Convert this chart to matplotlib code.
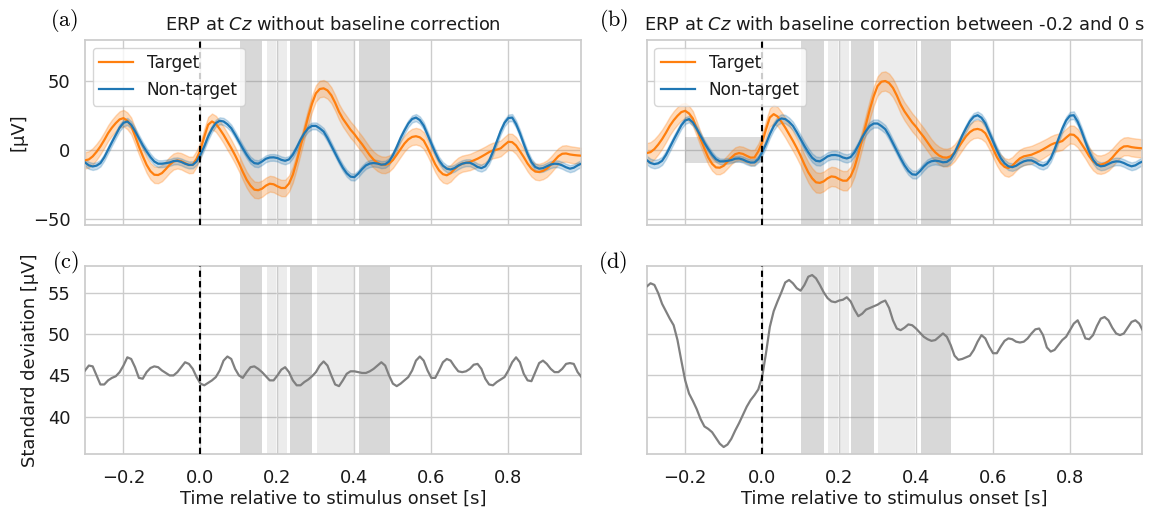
import numpy as np
import matplotlib
matplotlib.use("Agg")
import matplotlib.pyplot as plt

# ---------------- data ----------------
time = np.round(np.arange(-30, 100) / 100.0, 2)   # -0.30 ... 0.99 s

target_raw = [
    -7.2, -6.5, -4.3, -1.0, 2.9, 7.5, 12.5, 16.5, 19.8, 22.5,
    23.4, 21.5, 17.8, 10.5, 2.9, -4.0, -10.4, -15.0, -17.6, -17.8,
    -16.4, -13.5, -10.4, -8.0, -7.2, -7.8, -9.2, -10.5, -10.4, -6.0,
    0.5, 10.0, 18.6, 21.0, 19.3, 15.5, 11.3, 6.5, 1.7, -3.5,
    -9.2, -15.5, -21.2, -25.5, -28.4, -28.8, -27.7, -25.5, -24.1, -24.5,
    -26.0, -27.2, -27.2, -24.0, -17.6, -8.0, 2.9, 14.0, 24.6, 34.0,
    41.4, 44.5, 45.0, 43.5, 40.0, 34.5, 28.0, 23.0, 19.0, 15.0,
    11.8, 8.0, 4.5, 0.5, -3.5, -6.7, -9.0, -10.3, -10.5, -9.5,
    -7.0, -3.1, 1.0, 5.0, 8.0, 9.8, 10.3, 9.5, 7.2, 2.0,
    -4.0, -10.0, -14.5, -17.2, -18.0, -16.5, -13.5, -11.0, -9.6, -9.0,
    -8.4, -7.2, -6.0, -4.5, -2.9, -1.2, 0.0, 0.6, 1.5, 4.0,
    6.3, 6.0, 3.6, -0.5, -4.8, -9.5, -13.2, -15.3, -15.6, -14.8,
    -13.2, -10.5, -7.2, -4.2, -2.4, -2.2, -2.9, -3.3, -3.6, -3.8,
]
nontarget_raw = [
    -8.7, -10.8, -11.6, -11.0, -9.2, -5.0, 0.5, 6.0, 11.3, 16.5,
    20.0, 21.0, 18.6, 14.0, 8.9, 3.8, -0.7, -4.8, -8.0, -9.6,
    -9.6, -9.2, -8.7, -7.7, -7.5, -8.3, -9.6, -10.5, -10.4, -8.0,
    -3.1, 3.0, 10.1, 15.8, 19.8, 21.5, 21.0, 19.0, 16.1, 11.5,
    6.5, 1.5, -3.1, -7.0, -9.2, -9.6, -8.0, -6.0, -5.1, -5.0,
    -5.5, -6.8, -7.5, -6.5, -3.1, 2.0, 7.7, 12.5, 16.1, 17.8,
    17.8, 16.0, 13.7, 9.0, 3.5, -2.0, -7.5, -12.5, -16.5, -19.0,
    -19.3, -16.8, -13.5, -10.8, -9.5, -9.1, -9.5, -10.3, -10.0, -8.0,
    -3.5, 2.5, 9.0, 14.5, 19.5, 22.8, 23.8, 22.0, 18.0, 11.5,
    4.8, -1.5, -7.2, -11.0, -13.2, -13.8, -12.8, -11.0, -9.6, -8.9,
    -8.9, -10.2, -12.0, -12.8, -11.5, -7.5, -1.0, 6.5, 14.0, 20.0,
    23.5, 23.8, 19.2, 12.5, 4.8, -2.5, -8.4, -12.0, -13.2, -12.8,
    -11.5, -10.2, -9.6, -9.8, -10.8, -12.2, -13.2, -12.5, -10.8, -9.5,
]
target_bc = [
    -1.9, -1.2, 1.0, 4.3, 8.2, 12.8, 17.8, 21.8, 25.1, 27.8,
    28.7, 26.8, 23.1, 15.8, 8.2, 1.3, -5.1, -9.7, -12.3, -12.5,
    -11.1, -8.2, -5.1, -2.7, -1.9, -2.5, -3.9, -5.2, -5.1, -0.7,
    5.8, 15.3, 23.9, 26.3, 24.6, 20.8, 16.6, 11.8, 7.0, 1.8,
    -3.9, -10.2, -15.9, -20.2, -23.1, -23.5, -22.4, -20.2, -18.8, -19.2,
    -20.7, -21.9, -21.9, -18.7, -12.3, -2.7, 8.2, 19.3, 29.9, 39.3,
    46.7, 49.8, 50.3, 48.8, 45.3, 39.8, 33.3, 28.3, 24.3, 20.3,
    17.1, 13.3, 9.8, 5.8, 1.8, -1.4, -3.7, -5.0, -5.2, -4.2,
    -1.7, 2.2, 6.3, 10.3, 13.3, 15.1, 15.6, 14.8, 12.5, 7.3,
    1.3, -4.7, -9.2, -11.9, -12.7, -11.2, -8.2, -5.7, -4.3, -3.7,
    -3.1, -1.9, -0.7, 0.8, 2.4, 4.1, 5.3, 5.9, 6.8, 9.3,
    11.6, 11.3, 8.9, 4.8, 0.5, -4.2, -7.9, -10.0, -10.3, -9.5,
    -7.9, -5.2, -1.9, 1.1, 2.9, 3.1, 2.4, 2.0, 1.7, 1.5,
]
nontarget_bc = [
    -7.0, -9.1, -9.9, -9.3, -7.5, -3.3, 2.2, 7.7, 13.0, 18.2,
    21.7, 22.7, 20.3, 15.7, 10.6, 5.5, 1.0, -3.1, -6.3, -7.9,
    -7.9, -7.5, -7.0, -6.0, -5.8, -6.6, -7.9, -8.8, -8.7, -6.3,
    -1.4, 4.7, 11.8, 17.5, 21.5, 23.2, 22.7, 20.7, 17.8, 13.2,
    8.2, 3.2, -1.4, -5.3, -7.5, -7.9, -6.3, -4.3, -3.4, -3.3,
    -3.8, -5.1, -5.8, -4.8, -1.4, 3.7, 9.4, 14.2, 17.8, 19.5,
    19.5, 17.7, 15.4, 10.7, 5.2, -0.3, -5.8, -10.8, -14.8, -17.3,
    -17.6, -15.1, -11.8, -9.1, -7.8, -7.4, -7.8, -8.6, -8.3, -6.3,
    -1.8, 4.2, 10.7, 16.2, 21.2, 24.5, 25.5, 23.7, 19.7, 13.2,
    6.5, 0.2, -5.5, -9.3, -11.5, -12.1, -11.1, -9.3, -7.9, -7.2,
    -7.2, -8.5, -10.3, -11.1, -9.8, -5.8, 0.7, 8.2, 15.7, 21.7,
    25.2, 25.5, 20.9, 14.2, 6.5, -0.8, -6.7, -10.3, -11.5, -11.1,
    -9.8, -8.5, -7.9, -8.1, -9.1, -10.5, -11.5, -10.8, -9.1, -7.8,
]
std_raw = [
    45.6, 46.2, 46.1, 45.0, 43.9, 43.9, 44.4, 44.7, 44.9, 45.4,
    46.2, 47.2, 47.0, 46.0, 44.7, 44.6, 45.4, 45.9, 46.1, 46.0,
    45.6, 45.3, 45.0, 45.0, 45.4, 46.0, 46.6, 46.4, 45.8, 44.8,
    44.0, 43.8, 44.1, 44.4, 44.8, 45.6, 46.8, 47.3, 47.0, 45.8,
    45.0, 44.7, 45.4, 46.0, 46.1, 45.8, 45.4, 44.9, 44.4, 44.4,
    45.0, 45.7, 46.0, 45.4, 44.4, 43.8, 43.8, 44.2, 44.5, 44.9,
    45.4, 46.2, 46.7, 46.2, 45.0, 43.9, 43.7, 44.4, 45.2, 45.5,
    45.5, 45.4, 45.3, 45.3, 45.5, 45.8, 46.2, 46.6, 46.2, 45.0,
    44.0, 43.7, 44.0, 44.4, 44.8, 45.6, 46.8, 47.3, 46.8, 45.6,
    44.7, 44.7, 45.6, 46.6, 47.0, 46.8, 46.1, 45.5, 45.4, 45.5,
    45.8, 46.3, 46.4, 45.8, 44.6, 43.9, 43.8, 44.2, 44.5, 44.8,
    45.6, 46.6, 47.2, 46.6, 45.2, 44.4, 44.3, 45.4, 46.5, 46.8,
    46.4, 45.8, 45.4, 45.4, 45.8, 46.4, 46.5, 46.4, 45.4, 44.8,
]
std_bc = [
    55.8, 56.2, 56.0, 55.0, 53.7, 52.8, 51.9, 51.1, 49.3, 46.8,
    44.4, 42.8, 41.9, 40.9, 39.7, 38.8, 38.5, 38.1, 37.4, 36.7,
    36.3, 36.6, 37.3, 38.3, 39.2, 40.2, 41.2, 42.0, 42.6, 43.3,
    44.8, 47.7, 50.9, 52.8, 54.0, 55.1, 56.3, 56.6, 56.2, 55.6,
    55.3, 56.0, 57.0, 57.2, 56.8, 56.0, 55.1, 54.4, 54.0, 53.9,
    54.1, 54.2, 54.5, 54.0, 53.0, 52.2, 52.5, 53.0, 53.2, 53.4,
    53.6, 53.9, 54.1, 53.2, 51.7, 50.7, 50.5, 50.8, 51.2, 51.1,
    50.7, 50.2, 49.7, 49.4, 49.2, 49.3, 49.7, 50.1, 49.7, 48.7,
    47.4, 46.9, 47.0, 47.2, 47.4, 48.1, 49.1, 49.9, 49.5, 48.5,
    47.7, 47.7, 48.5, 49.2, 49.5, 49.4, 49.1, 49.0, 49.1, 49.5,
    50.1, 50.6, 50.7, 49.9, 48.4, 47.9, 48.1, 48.7, 49.3, 49.7,
    50.5, 51.3, 51.7, 50.7, 49.5, 49.4, 49.9, 51.0, 51.9, 52.1,
    51.7, 50.8, 50.1, 49.9, 50.1, 50.8, 51.5, 51.7, 51.3, 50.4,
]
n_target = 60        # epochs used for the standard-error bands
n_nontarget = 330

dark_spans = [(0.102, 0.160), (0.232, 0.290), (0.412, 0.492)]
light_spans = [(0.172, 0.196), (0.202, 0.226), (0.302, 0.398)]
baseline_window = (-0.2, 0.0)
baseline_band = (-8.8, 9.6)

xticks = [-0.2, 0.0, 0.2, 0.4, 0.6, 0.8]
erp_yticks = [-50, 0, 50]
std_yticks = [40, 45, 50, 55]

titles = [r"ERP at $\it{Cz}$ without baseline correction",
          r"ERP at $\it{Cz}$ with baseline correction between -0.2 and 0 s"]
panel_labels = ["(a)", "(b)", "(c)", "(d)"]

# ---------------- style ----------------
plt.rcParams["font.family"] = ["DejaVu Sans"]
FS = 12.9
C_T = "#ff7f0e"
C_N = "#1f77b4"
GRID = "#cccccc"
TXT = "#1a1a1a"

W, H = 1151, 514
fig = plt.figure(figsize=(W / 100, H / 100), dpi=100)


def px(l, t, r, b):
    return [l / W, 1 - b / H, (r - l) / W, (b - t) / H]


axA = fig.add_axes(px(85, 40, 580.7, 225))
axB = fig.add_axes(px(646.7, 40, 1142.3, 225))
axC = fig.add_axes(px(85, 266, 580.7, 454))
axD = fig.add_axes(px(646.7, 266, 1142.3, 454))

for ax in (axA, axB, axC, axD):
    ax.set_facecolor("white")
    for sp in ax.spines.values():
        sp.set_color(GRID)
        sp.set_linewidth(1.25)
    ax.grid(True, color=GRID, linewidth=1.0)
    ax.set_axisbelow(True)
    ax.tick_params(length=0, pad=10.5, labelsize=FS, colors=TXT)
    ax.set_xlim(-0.3, 0.988)
    ax.set_xticks(xticks)
    for a, b in dark_spans:
        ax.axvspan(a, b, color="gray", alpha=0.3, lw=0, zorder=0.6)
    for a, b in light_spans:
        ax.axvspan(a, b, color="gray", alpha=0.15, lw=0, zorder=0.6)
    ax.axvline(0, color="black", ls=(0, (3.0, 2.0)), lw=1.5, zorder=5)

std_raw_a = np.array(std_raw)
std_bc_a = np.array(std_bc)


def erp(ax, tgt, ntg, sd):
    tgt = np.array(tgt)
    ntg = np.array(ntg)
    se_t = sd / np.sqrt(n_target)
    se_n = sd / np.sqrt(n_nontarget)
    ax.fill_between(time, tgt - se_t, tgt + se_t, color=C_T, alpha=0.28, lw=1, zorder=2)
    ax.fill_between(time, ntg - se_n, ntg + se_n, color=C_N, alpha=0.25, lw=1, zorder=2)
    ax.plot(time, tgt, color=C_T, lw=1.6, label="Target", zorder=3)
    ax.plot(time, ntg, color=C_N, lw=1.6, label="Non-target", zorder=3)
    ax.set_ylim(-54, 80)
    ax.set_yticks(erp_yticks)
    ax.tick_params(labelbottom=False)
    leg = ax.legend(loc="upper left", fontsize=12.2, frameon=True, fancybox=True,
                    framealpha=0.8, edgecolor=GRID, borderaxespad=0.45)
    leg.set_zorder(10)
    for t in leg.get_texts():
        t.set_color(TXT)


erp(axA, target_raw, nontarget_raw, std_raw_a)
erp(axB, target_bc, nontarget_bc, std_bc_a)
axB.fill_between(list(baseline_window), baseline_band[0], baseline_band[1],
                 color="gray", alpha=0.27, lw=0, zorder=1)
axB.tick_params(labelleft=False)

axA.set_ylabel("[µV]", fontsize=FS, color=TXT)
axA.yaxis.set_label_coords(-0.117, 0.5)

for ax, sd in ((axC, std_raw), (axD, std_bc)):
    ax.plot(time, sd, color="gray", lw=1.6, zorder=3)
    ax.set_ylim(35.45, 58.3)
    ax.set_yticks(std_yticks)
    ax.set_xlabel("Time relative to stimulus onset [s]", fontsize=FS, color=TXT)
    ax.xaxis.set_label_coords(0.5, -0.19)
axD.tick_params(labelleft=False)
axC.set_ylabel("Standard deviation [µV]", fontsize=FS, color=TXT)
axC.yaxis.set_label_coords(-0.093, 0.5)

for ax, t in ((axA, titles[0]), (axB, titles[1])):
    ax.set_title(t, fontsize=FS, color=TXT, pad=7)

label_pos = [(64, 21), (614, 21), (65, 263), (613, 263)]
for lab, (x, y) in zip(panel_labels, label_pos):
    fig.text(x / W, 1 - y / H, r"$\mathrm{" + lab + "}$", math_fontfamily="cm",
             fontsize=16, ha="center", va="center", color="black")

fig.savefig("out.png", dpi=100)
